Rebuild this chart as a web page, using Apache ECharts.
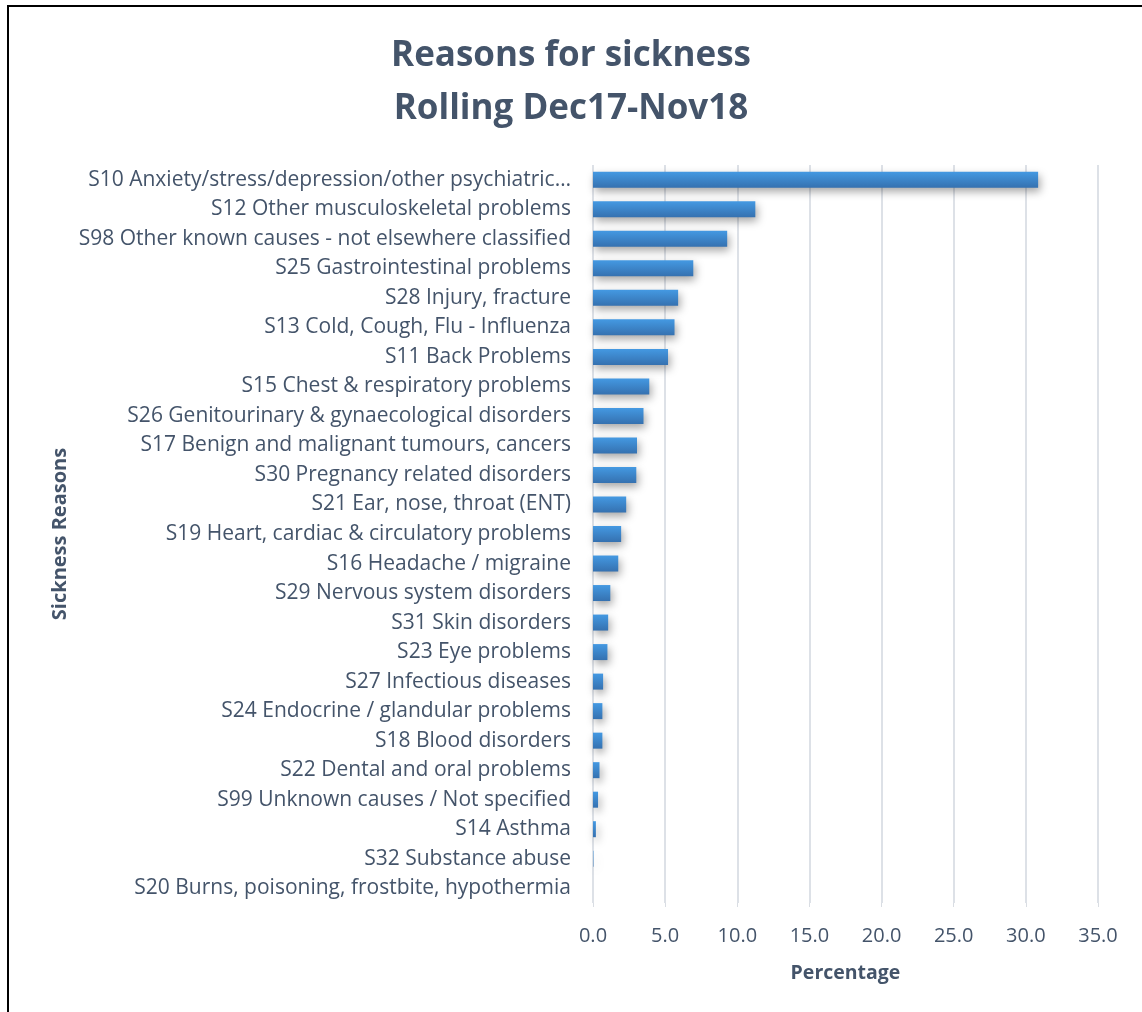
<!DOCTYPE html>
<html>
<head>
<meta charset="utf-8">
<script src="https://cdn.jsdelivr.net/npm/echarts@6/dist/echarts.min.js"></script>
<style>
html,body{margin:0;padding:0;background:#fff;}
#chart{width:1142px;height:1012px;}
</style>
</head>
<body>
<div id="chart"></div>
<script>
// Sickness reasons, largest first (drawn top to bottom)
const reasons = [
  'S10 Anxiety/stress/depression/other psychiatric illnesses',
  'S12 Other musculoskeletal problems',
  'S98 Other known causes - not elsewhere classified',
  'S25 Gastrointestinal problems',
  'S28 Injury, fracture',
  'S13 Cold, Cough, Flu - Influenza',
  'S11 Back Problems',
  'S15 Chest & respiratory problems',
  'S26 Genitourinary & gynaecological disorders',
  'S17 Benign and malignant tumours, cancers',
  'S30 Pregnancy related disorders',
  'S21 Ear, nose, throat (ENT)',
  'S19 Heart, cardiac & circulatory problems',
  'S16 Headache / migraine',
  'S29 Nervous system disorders',
  'S31 Skin disorders',
  'S23 Eye problems',
  'S27 Infectious diseases',
  'S24 Endocrine / glandular problems',
  'S18 Blood disorders',
  'S22 Dental and oral problems',
  'S99 Unknown causes / Not specified',
  'S14 Asthma',
  'S32 Substance abuse',
  'S20 Burns, poisoning, frostbite, hypothermia'
];
// Share of sickness absence, %
const percentages = [
  30.85, 11.25, 9.3, 6.95, 5.9, 5.65, 5.2, 3.9, 3.5, 3.05, 3.0, 2.3,
  1.95, 1.75, 1.2, 1.05, 1.0, 0.7, 0.65, 0.65, 0.45, 0.35, 0.2, 0.03, 0.0
];
const xTicks = { min: 0, max: 35, interval: 5 };

const textColor = '#44546a';
const font = 'Open Sans';

// Names longer than the label column are cut at a word boundary
function shortLabel(name) {
  const maxChars = 50;
  if (name.length <= maxChars) return name;
  const cut = name.slice(0, maxChars);
  return cut.slice(0, cut.lastIndexOf(' ')) + '…';
}

const chart = echarts.init(document.getElementById('chart'));
chart.setOption({
  backgroundColor: '#ffffff',
  animation: false,
  title: {
    text: 'Reasons for sickness\nRolling Dec17-Nov18',
    left: 'center',
    top: 25,
    textStyle: {
      fontFamily: font,
      fontSize: 35,
      fontWeight: 'bold',
      color: textColor,
      lineHeight: 53
    }
  },
  graphic: [{
    type: 'rect',
    shape: { x: 8, y: 6, width: 1160, height: 1040 },
    style: { fill: 'none', stroke: '#000', lineWidth: 2 },
    silent: true
  }],
  grid: { left: 593, right: 44, top: 165, bottom: 109, containLabel: false },
  xAxis: {
    type: 'value',
    min: xTicks.min,
    max: xTicks.max,
    interval: xTicks.interval,
    name: 'Percentage',
    nameLocation: 'middle',
    nameGap: 60,
    nameTextStyle: { fontFamily: font, fontSize: 19.5, fontWeight: 'bold', color: textColor },
    axisLine: { show: false },
    axisTick: { show: true, length: 4, lineStyle: { color: '#d9dde3', width: 1 } },
    axisLabel: {
      margin: 23,
      fontFamily: font,
      fontSize: 20,
      color: textColor,
      formatter: v => v.toFixed(1)
    },
    splitLine: { show: true, lineStyle: { color: '#dde1e7', width: 2 } }
  },
  yAxis: {
    type: 'category',
    data: reasons,
    inverse: true,
    name: 'Sickness Reasons',
    nameLocation: 'middle',
    nameGap: 523,
    nameRotate: 90,
    nameTextStyle: { fontFamily: font, fontSize: 20, fontWeight: 'bold', color: textColor },
    axisLine: { show: false },
    axisTick: { show: false },
    axisLabel: {
      margin: 22,
      fontFamily: font,
      fontSize: 21,
      color: textColor,
      formatter: shortLabel
    }
  },
  series: [{
    type: 'bar',
    data: percentages,
    barWidth: 16,
    itemStyle: {
      color: new echarts.graphic.LinearGradient(0, 0, 0, 1, [
        { offset: 0, color: '#4499e2' },
        { offset: 1, color: '#3571b0' }
      ]),
      shadowColor: 'rgba(0,0,0,0.35)',
      shadowBlur: 8,
      shadowOffsetX: 2,
      shadowOffsetY: 4
    }
  }]
});
</script>
</body>
</html>
